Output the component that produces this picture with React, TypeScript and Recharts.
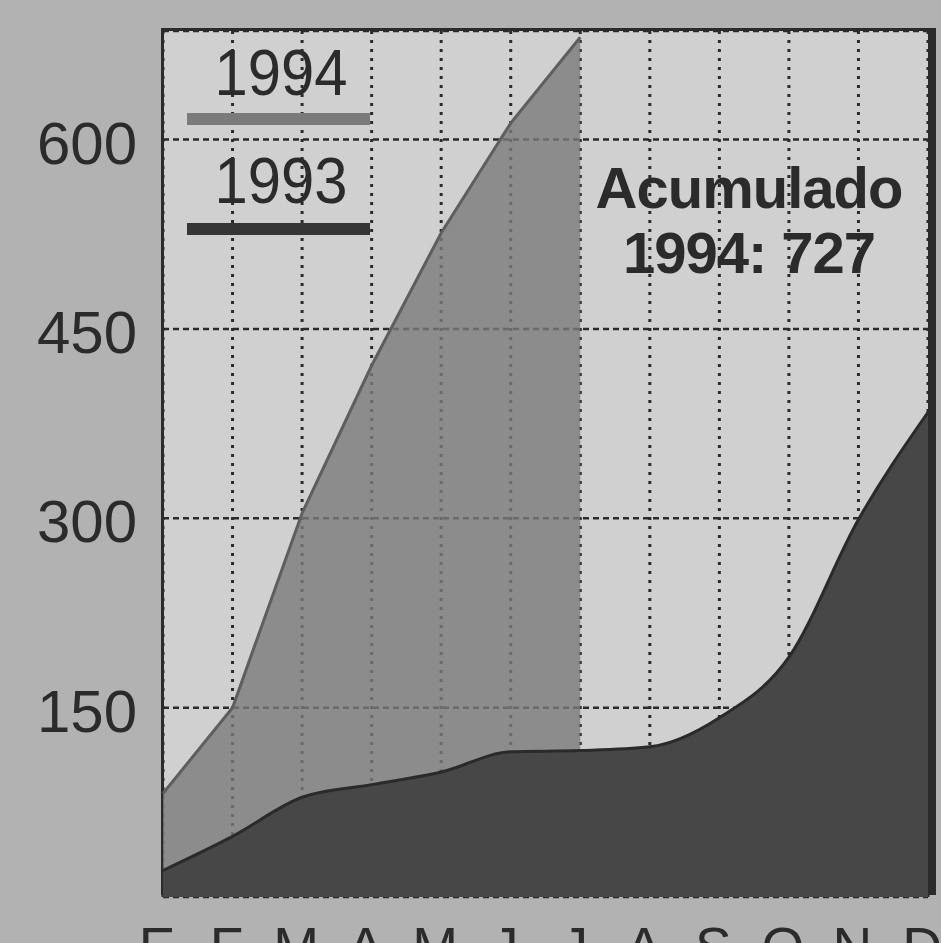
import { AreaChart, Area, XAxis, YAxis, CartesianGrid, Customized } from 'recharts';

// meses (enero..diciembre)
const months = ['E', 'F', 'M', 'A', 'M', 'J', 'J', 'A', 'S', 'O', 'N', 'D'];
// acumulado mensual
const acumulado1994 = [82, 150, 304, 421, 526, 613, 681];
const acumulado1993 = [21, 48, 79, 89, 99, 115, 116, 119, 142, 190, 299, 384];
const yTicks = [150, 300, 450, 600];

const data = months.map((m, i) => ({
  i,
  mes: m,
  y1994: i < acumulado1994.length ? acumulado1994[i] : null,
  y1993: acumulado1993[i],
}));

const FONT = '"Liberation Sans", Arial, Helvetica, sans-serif';
const BG = '#b2b2b2';
const PLOT_BG = '#d0d0d0';
const C1994 = '#7a7a7a';
const C1993 = '#474747';
const INK = '#2b2b2b';

const W = 941;
const H = 1000;
const LEFT = 163;
const TOP = 31;
const RIGHT = 928;
const BOTTOM = 897;

const legendItems = [
  { label: '1994', color: '#7b7b7b' },
  { label: '1993', color: '#363636' },
];

const YTick = (props: any) => {
  const { x, y, payload } = props;
  return (
    <text x={x - 26} y={y + 24} textAnchor="end" fontSize={60} fill={INK} fontFamily={FONT}>
      {payload.value}
    </text>
  );
};

const XTick = (props: any) => {
  const { x, y, payload } = props;
  return (
    <text x={x - 6} y={y + 69} textAnchor="middle" fontSize={55} fill={INK} fontFamily={FONT}>
      {months[payload.value]}
    </text>
  );
};

function Overlay() {
  return (
    <g fontFamily={FONT}>
      {legendItems.map((it, k) => (
        <g key={it.label}>
          <text
            transform={`translate(281 ${95 + k * 108}) scale(0.92 1)`}
            textAnchor="middle"
            fontSize={65}
            fill={INK}
          >
            {it.label}
          </text>
          <rect x={187} y={113 + k * 110} width={183} height={12} fill={it.color} />
        </g>
      ))}
      <text x={749} y={208} textAnchor="middle" fontSize={58} fontWeight="bold" fill={INK} letterSpacing={-1}>
        Acumulado
      </text>
      <text x={749} y={273} textAnchor="middle" fontSize={58} fontWeight="bold" fill={INK} letterSpacing={-1}>
        1994: 727
      </text>
      <text
        transform="translate(707 867) scale(0.84 1)"
        textAnchor="middle"
        fontSize={68}
        fill="#d9d9d9"
      >
        Total 1993: 364
      </text>
      {/* marco */}
      <rect x={LEFT - 2} y={TOP - 2} width={3} height={BOTTOM - TOP} fill={INK} />
      <rect x={LEFT - 2} y={TOP - 3} width={RIGHT - LEFT + 10} height={3} fill={INK} />
      <rect x={RIGHT} y={TOP - 3} width={8} height={BOTTOM - TOP - 1} fill={INK} />
      <rect x={LEFT - 2} y={885} width={RIGHT - LEFT + 10} height={10} fill={INK} />
    </g>
  );
}

export default function App() {
  return (
    <div
      style={{
        position: 'fixed',
        top: 0,
        left: 0,
        width: W,
        height: 943,
        overflow: 'hidden',
        background: BG,
      }}
    >
      <AreaChart
        width={W}
        height={H}
        data={data}
        margin={{ top: TOP, right: W - RIGHT, bottom: H - BOTTOM - 80, left: 0 }}
      >
        <CartesianGrid
          vertical={false}
          fill={PLOT_BG}
          stroke={INK}
          strokeWidth={2.5}
          strokeDasharray="6 4"
        />
        <CartesianGrid horizontal={false} stroke={INK} strokeWidth={3} strokeDasharray="3 6" />
        <XAxis
          dataKey="i"
          type="category"
          height={80}
          axisLine={false}
          tickLine={false}
          tickSize={0}
          tickMargin={0}
          interval={0}
          tick={<XTick />}
        />
        <YAxis
          width={LEFT}
          domain={[0, 686]}
          ticks={yTicks}
          axisLine={false}
          tickLine={false}
          tickSize={0}
          tickMargin={0}
          tick={<YTick />}
        />
        <Area
          type="linear"
          dataKey="y1994"
          stroke="#5e5e5e"
          strokeWidth={3}
          fill={C1994}
          fillOpacity={0.8}
          isAnimationActive={false}
          dot={false}
          activeDot={false}
        />
        <Area
          type="monotone"
          dataKey="y1993"
          stroke="#2a2a2a"
          strokeWidth={3}
          fill={C1993}
          fillOpacity={1}
          isAnimationActive={false}
          dot={false}
          activeDot={false}
        />
        <Customized component={<Overlay />} />
      </AreaChart>
    </div>
  );
}
